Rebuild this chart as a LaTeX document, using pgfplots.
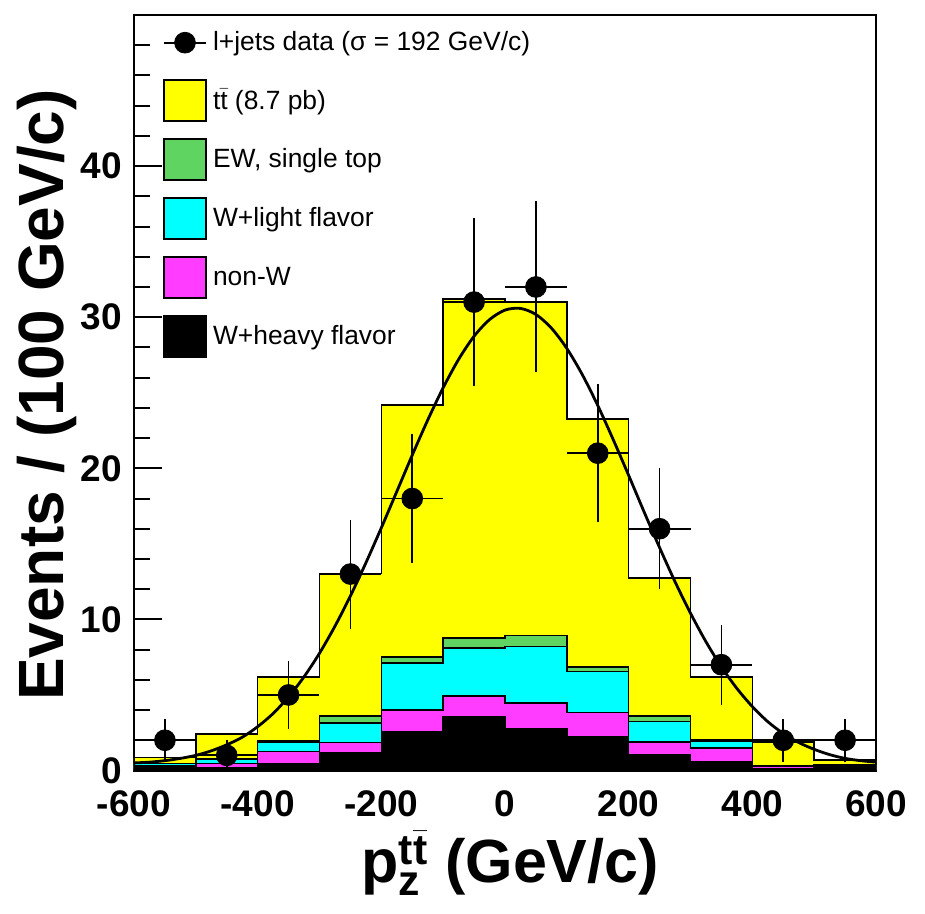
\documentclass[border=0pt]{standalone}
\usepackage{fontspec}
\setmainfont{Liberation Sans}
\usepackage{amsmath}
\usepackage{pgfplots}
\pgfplotsset{compat=1.18}
\definecolor{ttyellow}{RGB}{255,255,0}
\definecolor{ewgreen}{RGB}{96,212,96}
\definecolor{wlfcyan}{RGB}{0,255,255}
\definecolor{nonwmag}{RGB}{255,60,255}
\pgfplotsset{
  boxlegend/.style={legend image code/.code={\draw[##1, draw=black, line width=0.9pt] (0pt,-10.25pt) rectangle (21pt,10.25pt);}},
  datalegend/.style={legend image code/.code={\path[draw=none, fill=none] (0pt,-10.25pt) rectangle (21pt,10.25pt); \draw[black, line width=1pt] (0pt,0pt) -- (21pt,0pt); \fill[black] (10.5pt,0pt) circle (5.2pt);}},
}
\begin{document}
\begin{tikzpicture}
\begin{axis}[
  scale only axis, width=371pt, height=377.75pt,
  xmin=-600, xmax=600, ymin=0, ymax=50,
  axis line style={line width=1.2pt},
  xtick={-600,-400,-200,0,200,400,600},
  xticklabels={-600,-400,-200,0,200,400,600},
  xtick style={draw=none},
  ytick={0,10,20,30,40},
  yticklabels={0,10,20,30,40},
  minor ytick={2,4,6,8,12,14,16,18,22,24,26,28,32,34,36,38,42,44,46,48},
  ytick pos=left, xtick pos=bottom, tick align=inside,
  major tick length=14pt, minor tick length=8pt,
  ytick style={line width=1pt, black},
  ticklabel style={font=\bfseries\fontsize{18.5}{22}\selectfont, inner sep=0pt},
  xticklabel style={anchor=north, yshift=-9.75pt},
  yticklabel style={anchor=east, xshift=-6pt},
  xlabel={p$_{\text{z}}^{\text{t}\bar{\text{t}}}$ (GeV/c)},
  ylabel={Events / (100 GeV/c)},
  ylabel style={font=\bfseries\fontsize{32}{38}\selectfont, at={(axis description cs:-0.117,0.497)}, anchor=center},
  xlabel style={font=\bfseries\fontsize{30.5}{36}\selectfont, at={(axis description cs:0.507,-0.148)}, anchor=base},
  legend style={at={(axis description cs:0.0391,0.9905)}, anchor=north west, draw=none, fill=none, inner sep=0pt, outer sep=0pt, row sep=8.1pt, column sep=1pt, font=\fontsize{13.2}{15.8}\selectfont},
  legend cell align=left,
]
% total (ttbar on top)
\addplot[const plot, fill=ttyellow, draw=black, line width=0.8pt, forget plot] coordinates {
(-600,0.85) (-500,2.42) (-400,6.2) (-300,13.05) (-200,24.2) (-100,31.2) (0,31.0) (100,23.25) (200,12.75) (300,6.2) (400,1.87) (500,0.7) (600,0.7)} \closedcycle;
% EW, single top (cumulative)
\addplot[const plot, fill=ewgreen, draw=black, line width=0.8pt, forget plot] coordinates {
(-600,0.45) (-500,0.75) (-400,1.95) (-300,3.6) (-200,7.5) (-100,8.75) (0,8.93) (100,6.83) (200,3.6) (300,2.05) (400,0.3) (500,0.35) (600,0.35)} \closedcycle;
% W+light flavor (cumulative)
\addplot[const plot, fill=wlfcyan, draw=black, line width=0.8pt, forget plot] coordinates {
(-600,0.45) (-500,0.75) (-400,1.84) (-300,3.15) (-200,7.1) (-100,8.1) (0,8.2) (100,6.54) (200,3.25) (300,1.95) (400,0.3) (500,0.35) (600,0.35)} \closedcycle;
% non-W (cumulative)
\addplot[const plot, fill=nonwmag, draw=black, line width=0.8pt, forget plot] coordinates {
(-600,0.3) (-500,0.45) (-400,1.25) (-300,1.84) (-200,4.0) (-100,4.93) (0,4.45) (100,3.83) (200,1.88) (300,1.47) (400,0.3) (500,0.3) (600,0.3)} \closedcycle;
% W+heavy flavor
\addplot[const plot, fill=black, draw=black, line width=0.8pt, forget plot] coordinates {
(-600,0.15) (-500,0.2) (-400,0.43) (-300,1.15) (-200,2.57) (-100,3.56) (0,2.79) (100,2.2) (200,1.05) (300,0.56) (400,0.1) (500,0.25) (600,0.25)} \closedcycle;
% data
\addplot[only marks, mark=*, mark size=5.2pt, black, forget plot,
  error bars/.cd, x dir=both, x explicit, y dir=both, y explicit, error mark=none,
  error bar style={line width=0.9pt, black}] coordinates {
(-550,2) +- (50,1.41)
(-450,1) +- (50,1.0)
(-350,5) +- (50,2.24)
(-250,13) +- (50,3.61)
(-150,18) +- (50,4.24)
(-50,31) +- (50,5.57)
(50,32) +- (50,5.66)
(150,21) +- (50,4.58)
(250,16) +- (50,4.0)
(350,7) +- (50,2.65)
(450,2) +- (50,1.41)
(550,2) +- (50,1.41)};
% fit curve
\addplot[black, line width=1.4pt, smooth, forget plot] coordinates {
(-600,0.5) (-575,0.55) (-550,0.65) (-525,0.8) (-500,1.0) (-475,1.3) (-450,1.7) (-425,2.2) (-400,2.9)
(-375,3.77) (-350,4.88) (-325,6.2) (-300,7.76) (-275,9.55) (-250,11.55) (-225,13.74) (-200,16.06)
(-175,18.46) (-150,20.87) (-125,23.19) (-100,25.33) (-75,27.21) (-50,28.74) (-25,29.84) (0,30.47)
(25,30.58) (50,30.18) (75,29.28) (100,27.93) (125,26.2) (150,24.16) (175,21.9) (200,19.53)
(225,17.11) (250,14.75) (275,12.49) (300,10.41) (325,8.52) (350,6.86) (375,5.43) (400,4.23)
(425,3.23) (450,2.45) (475,1.85) (500,1.4) (525,1.05) (550,0.8) (575,0.65) (600,0.55)};
\addlegendimage{datalegend}
\addlegendentry{l+jets data (σ = 192 GeV/c)}
\addlegendimage{boxlegend, fill=ttyellow}
\addlegendentry{t$\bar{\text{t}}$ (8.7 pb)}
\addlegendimage{boxlegend, fill=ewgreen}
\addlegendentry{EW, single top}
\addlegendimage{boxlegend, fill=wlfcyan}
\addlegendentry{W+light flavor}
\addlegendimage{boxlegend, fill=nonwmag}
\addlegendentry{non-W}
\addlegendimage{boxlegend, fill=black}
\addlegendentry{W+heavy flavor}
\end{axis}
\pgfresetboundingbox
\path ([xshift=-67pt,yshift=-71.75pt]current axis.south west) rectangle ([xshift=24.5pt,yshift=7.5pt]current axis.north east);
\end{tikzpicture}
\end{document}
